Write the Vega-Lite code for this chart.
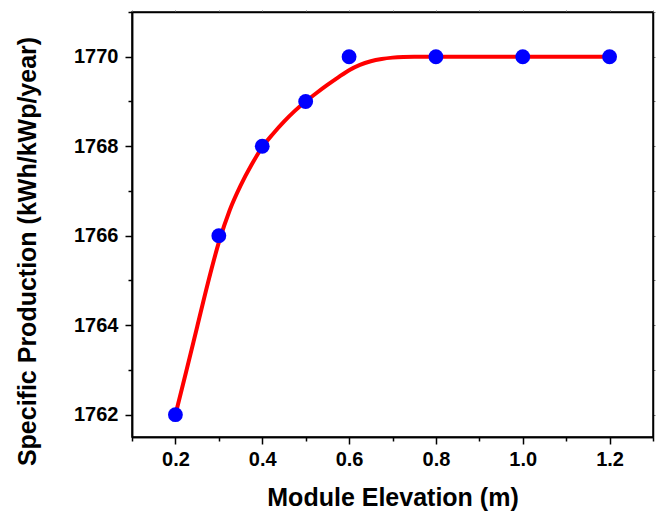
{
  "$schema": "https://vega.github.io/schema/vega-lite/v6.json",
  "width": 521,
  "height": 425,
  "autosize": {"type": "none"},
  "padding": {"left": 132, "top": 12, "right": 7, "bottom": 76},
  "background": "white",
  "config": {
    "view": {"stroke": "black", "strokeWidth": 1.5},
    "axis": {
      "labelFont": "Liberation Sans",
      "labelFontWeight": "bold",
      "labelFontSize": 20,
      "labelColor": "black",
      "titleFont": "Liberation Sans",
      "titleFontWeight": "bold",
      "titleFontSize": 25,
      "titleColor": "black",
      "domainColor": "black",
      "domainWidth": 1.5,
      "tickColor": "black",
      "tickWidth": 1.5,
      "grid": false
    }
  },
  "datasets": {
    "points": [
      {"elevation": 0.2, "production": 1762},
      {"elevation": 0.3, "production": 1766},
      {"elevation": 0.4, "production": 1768},
      {"elevation": 0.5, "production": 1769},
      {"elevation": 0.6, "production": 1770},
      {"elevation": 0.8, "production": 1770},
      {"elevation": 1.0, "production": 1770},
      {"elevation": 1.2, "production": 1770}
    ],
    "curve": [
      {"elevation": 0.2, "production": 1762.0},
      {"elevation": 0.225, "production": 1762.97},
      {"elevation": 0.25, "production": 1763.96},
      {"elevation": 0.275, "production": 1764.95},
      {"elevation": 0.3, "production": 1765.85},
      {"elevation": 0.325, "production": 1766.57},
      {"elevation": 0.35, "production": 1767.12},
      {"elevation": 0.375, "production": 1767.58},
      {"elevation": 0.4, "production": 1767.98},
      {"elevation": 0.425, "production": 1768.28},
      {"elevation": 0.45, "production": 1768.55},
      {"elevation": 0.475, "production": 1768.79},
      {"elevation": 0.5, "production": 1769.0},
      {"elevation": 0.525, "production": 1769.19},
      {"elevation": 0.55, "production": 1769.37},
      {"elevation": 0.575, "production": 1769.54},
      {"elevation": 0.6, "production": 1769.7},
      {"elevation": 0.625, "production": 1769.82},
      {"elevation": 0.65, "production": 1769.9},
      {"elevation": 0.675, "production": 1769.95},
      {"elevation": 0.7, "production": 1769.98},
      {"elevation": 0.725, "production": 1769.995},
      {"elevation": 0.75, "production": 1770.0},
      {"elevation": 0.8, "production": 1770.0},
      {"elevation": 1.0, "production": 1770.0},
      {"elevation": 1.2, "production": 1770.0}
    ]
  },
  "resolve": {"axis": {"x": "independent", "y": "independent"}},
  "layer": [
    {
      "data": {"name": "curve"},
      "mark": {"type": "line", "color": "#FF0000", "strokeWidth": 4, "interpolate": "monotone"},
      "encoding": {
        "x": {
          "field": "elevation", "type": "quantitative",
          "scale": {"domain": [0.1, 1.3], "nice": false, "zero": false},
          "axis": {
            "orient": "bottom",
            "values": [0.2, 0.4, 0.6, 0.8, 1.0, 1.2],
            "format": ".1f",
            "tickSize": 7,
            "labelPadding": 5,
            "title": "Module Elevation (m)",
            "titlePadding": 16
          }
        },
        "y": {
          "field": "production", "type": "quantitative",
          "scale": {"domain": [1761.5, 1771], "nice": false, "zero": false},
          "axis": {
            "orient": "left",
            "values": [1762, 1764, 1766, 1768, 1770],
            "format": "d",
            "tickSize": 7,
            "labelPadding": 7,
            "title": "Specific Production (kWh/kWp/year)",
            "titleX": -92,
            "titleY": 239
          }
        }
      }
    },
    {
      "data": {"name": "points"},
      "mark": {"type": "circle", "color": "#0000FF", "opacity": 1, "size": 220},
      "encoding": {
        "x": {
          "field": "elevation", "type": "quantitative",
          "axis": {
            "orient": "bottom",
            "values": [0.1, 0.3, 0.5, 0.7, 0.9, 1.1, 1.3],
            "labels": false,
            "tickSize": 4,
            "title": null
          }
        },
        "y": {
          "field": "production", "type": "quantitative",
          "axis": {
            "orient": "left",
            "values": [1763, 1765, 1767, 1769, 1771],
            "labels": false,
            "tickSize": 4,
            "title": null
          }
        }
      }
    },
    {
      "data": {"name": "points"},
      "mark": {"type": "circle", "opacity": 0},
      "encoding": {
        "x": {
          "field": "elevation", "type": "quantitative",
          "axis": {
            "orient": "top",
            "values": [0.1, 0.2, 0.3, 0.4, 0.5, 0.6, 0.7, 0.8, 0.9, 1.0, 1.1, 1.2, 1.3],
            "labels": false,
            "tickSize": 2,
            "tickColor": "#777777",
            "tickWidth": 1,
            "title": null
          }
        },
        "y": {
          "field": "production", "type": "quantitative",
          "axis": {
            "orient": "right",
            "values": [1762, 1763, 1764, 1765, 1766, 1767, 1768, 1769, 1770, 1771],
            "labels": false,
            "tickSize": 2,
            "tickColor": "#777777",
            "tickWidth": 1,
            "title": null
          }
        }
      }
    }
  ]
}
